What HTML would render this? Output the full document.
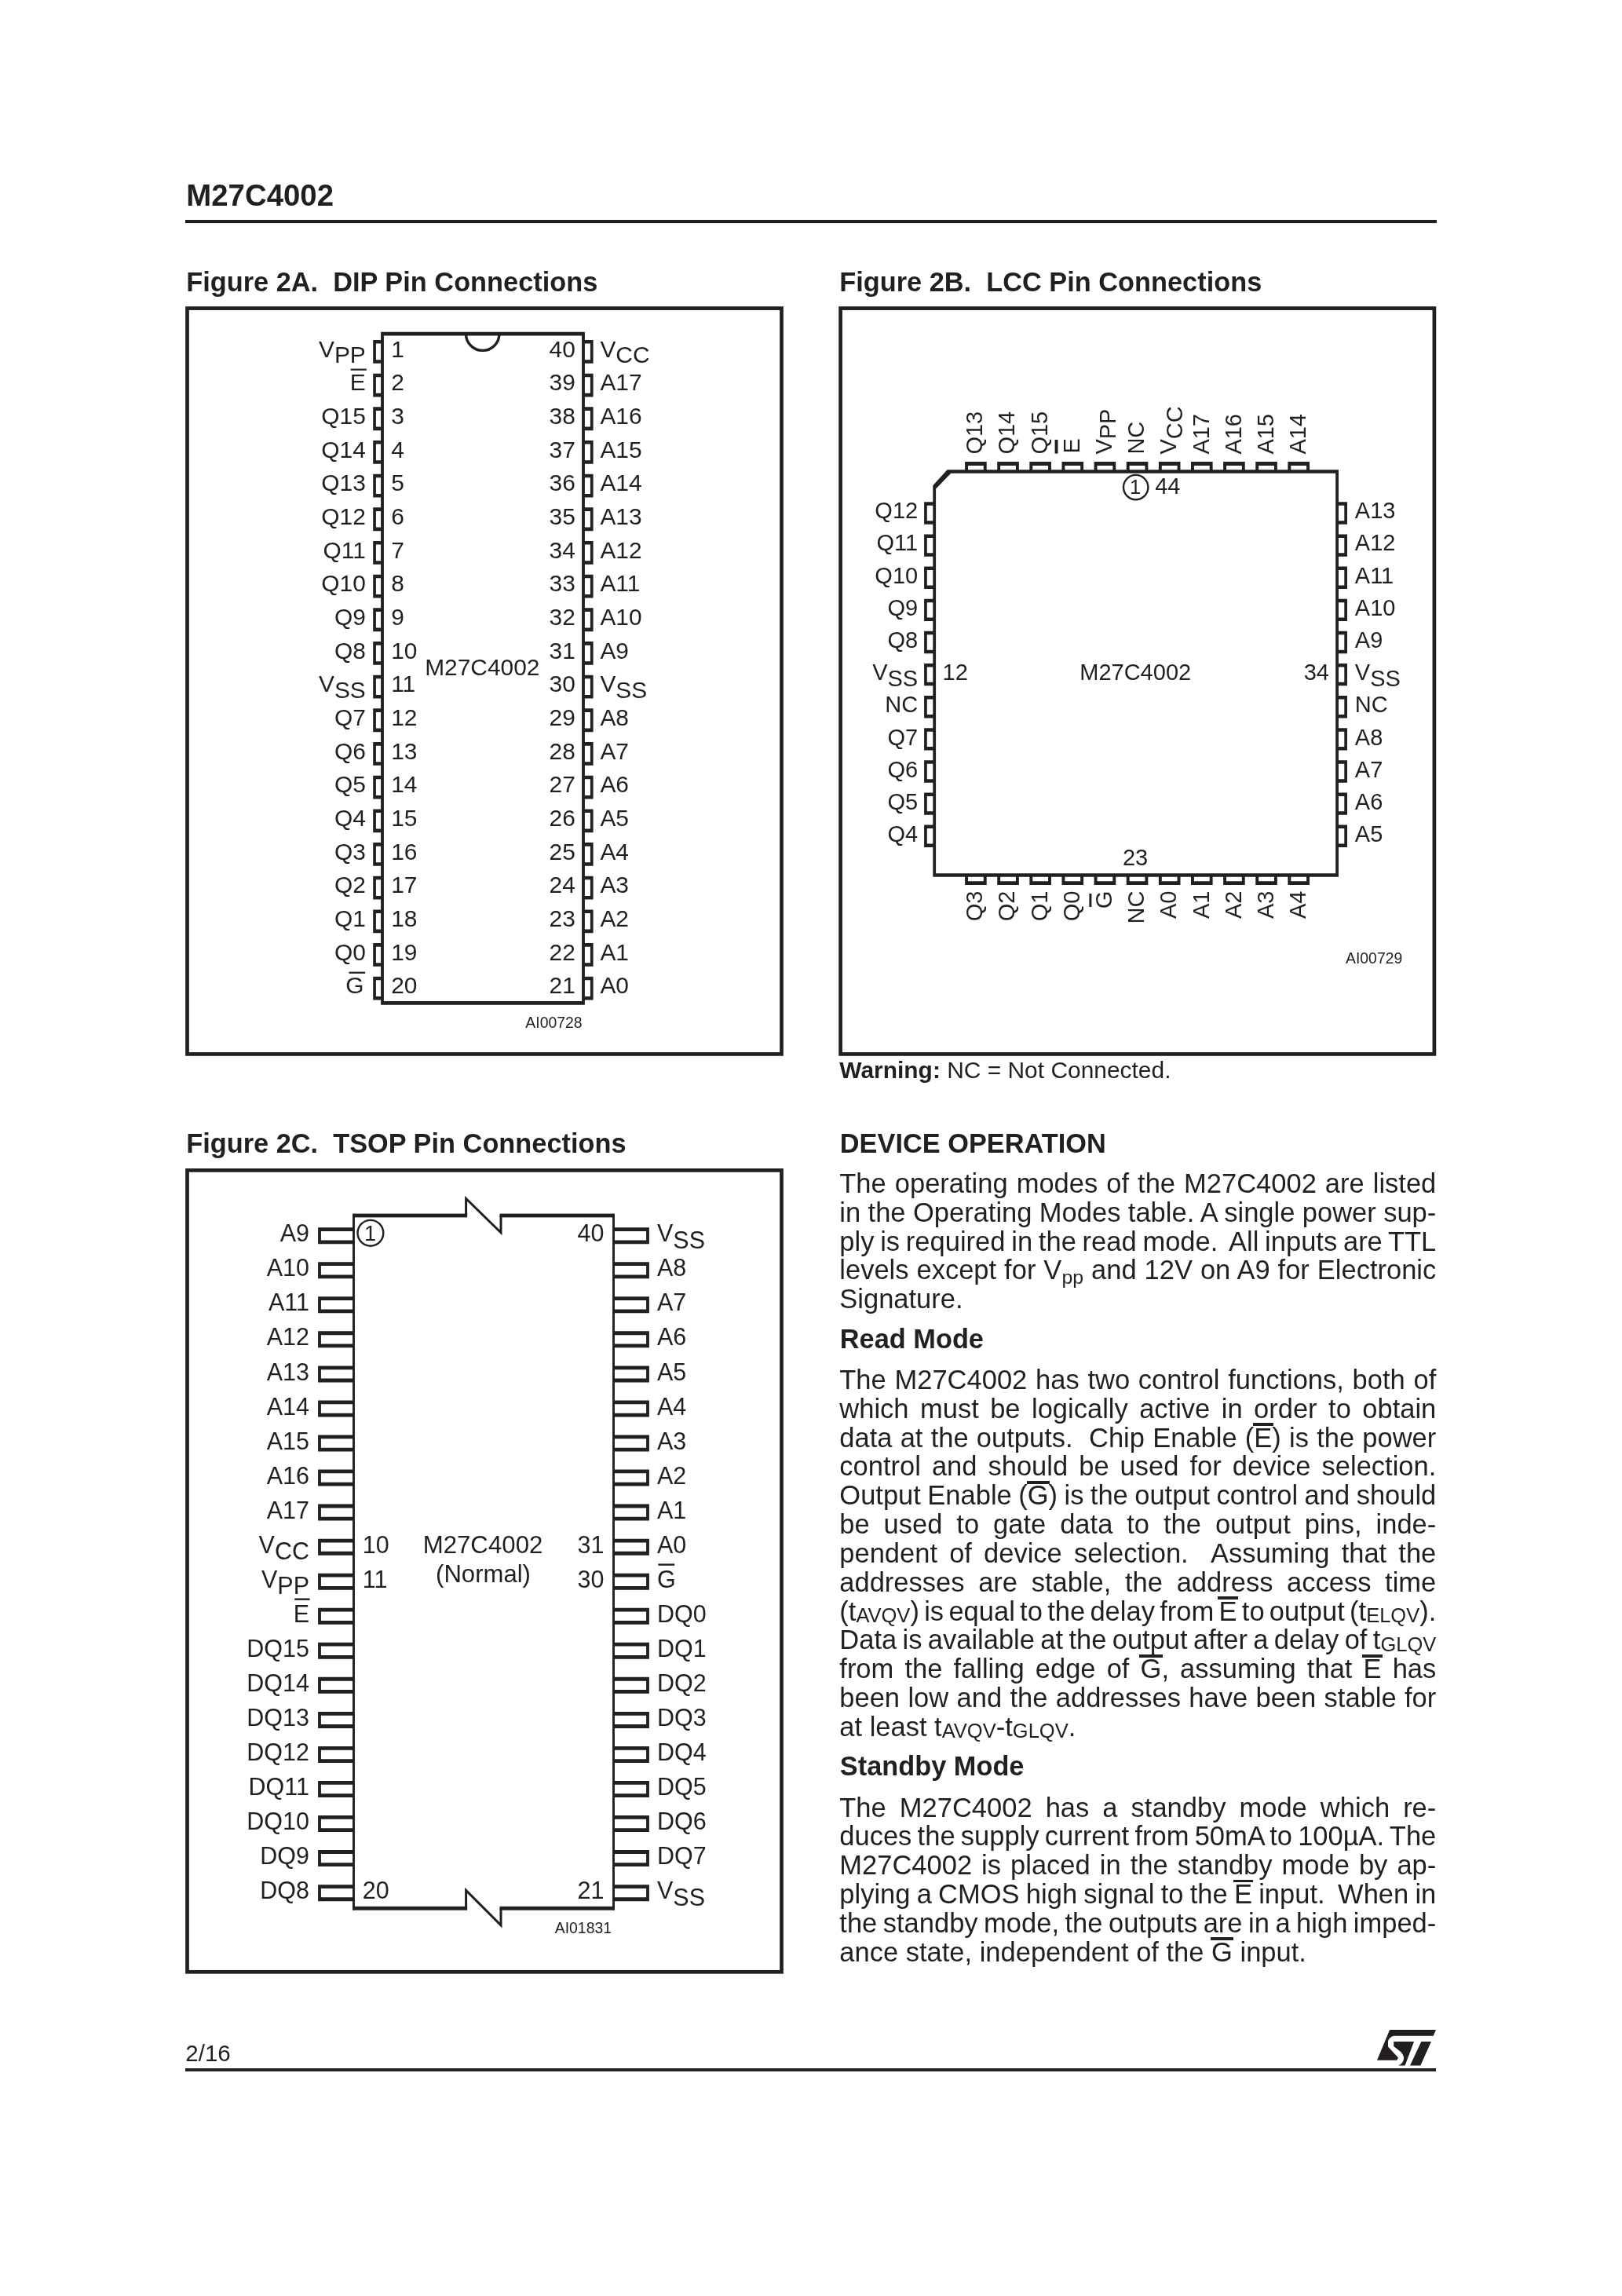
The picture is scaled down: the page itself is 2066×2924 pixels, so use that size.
<!DOCTYPE html>
<html lang="en"><head><meta charset="utf-8"><title>M27C4002</title>
<style>
html,body{margin:0;padding:0;background:#fff;}
body{width:2066px;height:2924px;position:relative;overflow:hidden;font-family:"Liberation Sans",sans-serif;color:#231f20;will-change:transform;}
svg{position:absolute;left:0;top:0;}
svg text{font-family:"Liberation Sans",sans-serif;fill:#231f20;}
.ln{position:absolute;left:1069.3px;height:40px;line-height:40px;font-size:34.5px;white-space:nowrap;}
.ob{position:relative;display:inline-block;line-height:1;}
.ob::before{content:"";position:absolute;left:-1.2px;right:-1.3px;top:-1.2px;height:3.7px;background:#231f20;}
.sc{font-size:0.74em;position:relative;top:0.1em;}
.sb{font-size:0.72em;position:relative;top:0.22em;}
</style></head><body>
<svg width="2066" height="2924" viewBox="0 0 2066 2924">
<text transform="translate(237.30,262.30) scale(1.0020,1.0000)" font-size="38.3" font-weight="bold">M27C4002</text>
<rect x="236.00" y="280.00" width="1594.00" height="4.10" fill="#231f20"/>
<rect x="236.00" y="2634.00" width="1593.00" height="4.00" fill="#231f20"/>
<text transform="translate(236.30,2625.20) scale(0.9700,1.0000)" font-size="30.4">2/16</text>
<g fill="#231f20"><path d="M1770.1 2585.1 L1829 2585.1 L1825.7 2592.8 L1775.2 2592.8 Q1769.5 2594.5 1768 2599.4 L1768 2606.6 L1780.9 2620.4 L1779.3 2623.7 L1754 2623.7 Z"/><path d="M1775.2 2600.1 L1801.1 2600.1 L1789.6 2630.6 L1781.2 2630.6 Q1787 2627.5 1787.8 2623 L1788.2 2620.4 Q1787.5 2616 1784.4 2613.2 L1775.2 2606.1 Z"/><path d="M1810.3 2600.1 L1823 2600.1 L1809.3 2630.6 L1796 2630.6 Z"/></g>
<text transform="translate(237.20,371.10) scale(0.9760,1.0000)" font-size="35.2" font-weight="bold" xml:space="preserve" style="white-space:pre">Figure 2A.  DIP Pin Connections</text>
<text transform="translate(1069.20,371.10) scale(0.9760,1.0000)" font-size="35.2" font-weight="bold" xml:space="preserve" style="white-space:pre">Figure 2B.  LCC Pin Connections</text>
<text transform="translate(237.20,1467.80) scale(0.9760,1.0000)" font-size="35.2" font-weight="bold" xml:space="preserve" style="white-space:pre">Figure 2C.  TSOP Pin Connections</text>
<text transform="translate(1069.80,1467.60) scale(0.9760,1.0000)" font-size="35.2" font-weight="bold">DEVICE OPERATION</text>
<text transform="translate(1069.80,1716.90) scale(0.9760,1.0000)" font-size="35.2" font-weight="bold">Read Mode</text>
<text transform="translate(1069.80,2261.00) scale(0.9760,1.0000)" font-size="35.2" font-weight="bold">Standby Mode</text>
<rect x="238.50" y="392.60" width="757.00" height="949.80" fill="none" stroke="#231f20" stroke-width="4.7"/>
<rect x="1070.60" y="392.60" width="756.30" height="949.80" fill="none" stroke="#231f20" stroke-width="4.7"/>
<rect x="238.50" y="1490.40" width="757.00" height="1020.90" fill="none" stroke="#231f20" stroke-width="4.7"/>
<path fill-rule="evenodd" fill="#231f20" d="M485.10 422.80H744.90V1279.70H485.10Z M488.90 427.60H741.10V1274.90H488.90Z"/>
<path d="M593.50 425.2 A21.2 21.2 0 0 0 635.90 425.2" fill="none" stroke="#231f20" stroke-width="3.4"/>
<path fill-rule="evenodd" fill="#231f20" d="M475.20 433.00H487.00V462.80H475.20Z M478.90 437.60H487.00V458.20H478.90Z"/>
<path fill-rule="evenodd" fill="#231f20" d="M743.00 433.00H755.60V462.80H743.00Z M743.00 437.60H751.90V458.20H743.00Z"/>
<text transform="translate(498.20,454.50) scale(1.0320,1.0000)" font-size="29.0">1</text>
<text transform="translate(732.90,454.50) scale(1.0320,1.0000)" font-size="29.0" text-anchor="end">40</text>
<text transform="translate(465.80,454.50) scale(1.0320,1.0000)" font-size="29.0" text-anchor="end">V<tspan dy="7.8">PP</tspan></text>
<text transform="translate(764.40,454.50) scale(1.0320,1.0000)" font-size="29.0">V<tspan dy="7.8">CC</tspan></text>
<path fill-rule="evenodd" fill="#231f20" d="M475.20 475.67H487.00V505.47H475.20Z M478.90 480.27H487.00V500.87H478.90Z"/>
<path fill-rule="evenodd" fill="#231f20" d="M743.00 475.67H755.60V505.47H743.00Z M743.00 480.27H751.90V500.87H743.00Z"/>
<text transform="translate(498.20,497.17) scale(1.0320,1.0000)" font-size="29.0">2</text>
<text transform="translate(732.90,497.17) scale(1.0320,1.0000)" font-size="29.0" text-anchor="end">39</text>
<text transform="translate(465.80,497.17) scale(1.0320,1.0000)" font-size="29.0" text-anchor="end">E</text>
<rect x="446.70" y="469.57" width="20.10" height="2.20" fill="#231f20"/>
<text transform="translate(764.40,497.17) scale(1.0320,1.0000)" font-size="29.0">A17</text>
<path fill-rule="evenodd" fill="#231f20" d="M475.20 518.34H487.00V548.14H475.20Z M478.90 522.94H487.00V543.54H478.90Z"/>
<path fill-rule="evenodd" fill="#231f20" d="M743.00 518.34H755.60V548.14H743.00Z M743.00 522.94H751.90V543.54H743.00Z"/>
<text transform="translate(498.20,539.84) scale(1.0320,1.0000)" font-size="29.0">3</text>
<text transform="translate(732.90,539.84) scale(1.0320,1.0000)" font-size="29.0" text-anchor="end">38</text>
<text transform="translate(465.80,539.84) scale(1.0320,1.0000)" font-size="29.0" text-anchor="end">Q15</text>
<text transform="translate(764.40,539.84) scale(1.0320,1.0000)" font-size="29.0">A16</text>
<path fill-rule="evenodd" fill="#231f20" d="M475.20 561.01H487.00V590.81H475.20Z M478.90 565.61H487.00V586.21H478.90Z"/>
<path fill-rule="evenodd" fill="#231f20" d="M743.00 561.01H755.60V590.81H743.00Z M743.00 565.61H751.90V586.21H743.00Z"/>
<text transform="translate(498.20,582.51) scale(1.0320,1.0000)" font-size="29.0">4</text>
<text transform="translate(732.90,582.51) scale(1.0320,1.0000)" font-size="29.0" text-anchor="end">37</text>
<text transform="translate(465.80,582.51) scale(1.0320,1.0000)" font-size="29.0" text-anchor="end">Q14</text>
<text transform="translate(764.40,582.51) scale(1.0320,1.0000)" font-size="29.0">A15</text>
<path fill-rule="evenodd" fill="#231f20" d="M475.20 603.68H487.00V633.48H475.20Z M478.90 608.28H487.00V628.88H478.90Z"/>
<path fill-rule="evenodd" fill="#231f20" d="M743.00 603.68H755.60V633.48H743.00Z M743.00 608.28H751.90V628.88H743.00Z"/>
<text transform="translate(498.20,625.18) scale(1.0320,1.0000)" font-size="29.0">5</text>
<text transform="translate(732.90,625.18) scale(1.0320,1.0000)" font-size="29.0" text-anchor="end">36</text>
<text transform="translate(465.80,625.18) scale(1.0320,1.0000)" font-size="29.0" text-anchor="end">Q13</text>
<text transform="translate(764.40,625.18) scale(1.0320,1.0000)" font-size="29.0">A14</text>
<path fill-rule="evenodd" fill="#231f20" d="M475.20 646.35H487.00V676.15H475.20Z M478.90 650.95H487.00V671.55H478.90Z"/>
<path fill-rule="evenodd" fill="#231f20" d="M743.00 646.35H755.60V676.15H743.00Z M743.00 650.95H751.90V671.55H743.00Z"/>
<text transform="translate(498.20,667.85) scale(1.0320,1.0000)" font-size="29.0">6</text>
<text transform="translate(732.90,667.85) scale(1.0320,1.0000)" font-size="29.0" text-anchor="end">35</text>
<text transform="translate(465.80,667.85) scale(1.0320,1.0000)" font-size="29.0" text-anchor="end">Q12</text>
<text transform="translate(764.40,667.85) scale(1.0320,1.0000)" font-size="29.0">A13</text>
<path fill-rule="evenodd" fill="#231f20" d="M475.20 689.02H487.00V718.82H475.20Z M478.90 693.62H487.00V714.22H478.90Z"/>
<path fill-rule="evenodd" fill="#231f20" d="M743.00 689.02H755.60V718.82H743.00Z M743.00 693.62H751.90V714.22H743.00Z"/>
<text transform="translate(498.20,710.52) scale(1.0320,1.0000)" font-size="29.0">7</text>
<text transform="translate(732.90,710.52) scale(1.0320,1.0000)" font-size="29.0" text-anchor="end">34</text>
<text transform="translate(465.80,710.52) scale(1.0320,1.0000)" font-size="29.0" text-anchor="end">Q11</text>
<text transform="translate(764.40,710.52) scale(1.0320,1.0000)" font-size="29.0">A12</text>
<path fill-rule="evenodd" fill="#231f20" d="M475.20 731.69H487.00V761.49H475.20Z M478.90 736.29H487.00V756.89H478.90Z"/>
<path fill-rule="evenodd" fill="#231f20" d="M743.00 731.69H755.60V761.49H743.00Z M743.00 736.29H751.90V756.89H743.00Z"/>
<text transform="translate(498.20,753.19) scale(1.0320,1.0000)" font-size="29.0">8</text>
<text transform="translate(732.90,753.19) scale(1.0320,1.0000)" font-size="29.0" text-anchor="end">33</text>
<text transform="translate(465.80,753.19) scale(1.0320,1.0000)" font-size="29.0" text-anchor="end">Q10</text>
<text transform="translate(764.40,753.19) scale(1.0320,1.0000)" font-size="29.0">A11</text>
<path fill-rule="evenodd" fill="#231f20" d="M475.20 774.36H487.00V804.16H475.20Z M478.90 778.96H487.00V799.56H478.90Z"/>
<path fill-rule="evenodd" fill="#231f20" d="M743.00 774.36H755.60V804.16H743.00Z M743.00 778.96H751.90V799.56H743.00Z"/>
<text transform="translate(498.20,795.86) scale(1.0320,1.0000)" font-size="29.0">9</text>
<text transform="translate(732.90,795.86) scale(1.0320,1.0000)" font-size="29.0" text-anchor="end">32</text>
<text transform="translate(465.80,795.86) scale(1.0320,1.0000)" font-size="29.0" text-anchor="end">Q9</text>
<text transform="translate(764.40,795.86) scale(1.0320,1.0000)" font-size="29.0">A10</text>
<path fill-rule="evenodd" fill="#231f20" d="M475.20 817.03H487.00V846.83H475.20Z M478.90 821.63H487.00V842.23H478.90Z"/>
<path fill-rule="evenodd" fill="#231f20" d="M743.00 817.03H755.60V846.83H743.00Z M743.00 821.63H751.90V842.23H743.00Z"/>
<text transform="translate(498.20,838.53) scale(1.0320,1.0000)" font-size="29.0">10</text>
<text transform="translate(732.90,838.53) scale(1.0320,1.0000)" font-size="29.0" text-anchor="end">31</text>
<text transform="translate(465.80,838.53) scale(1.0320,1.0000)" font-size="29.0" text-anchor="end">Q8</text>
<text transform="translate(764.40,838.53) scale(1.0320,1.0000)" font-size="29.0">A9</text>
<path fill-rule="evenodd" fill="#231f20" d="M475.20 859.70H487.00V889.50H475.20Z M478.90 864.30H487.00V884.90H478.90Z"/>
<path fill-rule="evenodd" fill="#231f20" d="M743.00 859.70H755.60V889.50H743.00Z M743.00 864.30H751.90V884.90H743.00Z"/>
<text transform="translate(498.20,881.20) scale(1.0320,1.0000)" font-size="29.0">11</text>
<text transform="translate(732.90,881.20) scale(1.0320,1.0000)" font-size="29.0" text-anchor="end">30</text>
<text transform="translate(465.80,881.20) scale(1.0320,1.0000)" font-size="29.0" text-anchor="end">V<tspan dy="7.8">SS</tspan></text>
<text transform="translate(764.40,881.20) scale(1.0320,1.0000)" font-size="29.0">V<tspan dy="7.8">SS</tspan></text>
<path fill-rule="evenodd" fill="#231f20" d="M475.20 902.37H487.00V932.17H475.20Z M478.90 906.97H487.00V927.57H478.90Z"/>
<path fill-rule="evenodd" fill="#231f20" d="M743.00 902.37H755.60V932.17H743.00Z M743.00 906.97H751.90V927.57H743.00Z"/>
<text transform="translate(498.20,923.87) scale(1.0320,1.0000)" font-size="29.0">12</text>
<text transform="translate(732.90,923.87) scale(1.0320,1.0000)" font-size="29.0" text-anchor="end">29</text>
<text transform="translate(465.80,923.87) scale(1.0320,1.0000)" font-size="29.0" text-anchor="end">Q7</text>
<text transform="translate(764.40,923.87) scale(1.0320,1.0000)" font-size="29.0">A8</text>
<path fill-rule="evenodd" fill="#231f20" d="M475.20 945.04H487.00V974.84H475.20Z M478.90 949.64H487.00V970.24H478.90Z"/>
<path fill-rule="evenodd" fill="#231f20" d="M743.00 945.04H755.60V974.84H743.00Z M743.00 949.64H751.90V970.24H743.00Z"/>
<text transform="translate(498.20,966.54) scale(1.0320,1.0000)" font-size="29.0">13</text>
<text transform="translate(732.90,966.54) scale(1.0320,1.0000)" font-size="29.0" text-anchor="end">28</text>
<text transform="translate(465.80,966.54) scale(1.0320,1.0000)" font-size="29.0" text-anchor="end">Q6</text>
<text transform="translate(764.40,966.54) scale(1.0320,1.0000)" font-size="29.0">A7</text>
<path fill-rule="evenodd" fill="#231f20" d="M475.20 987.71H487.00V1017.51H475.20Z M478.90 992.31H487.00V1012.91H478.90Z"/>
<path fill-rule="evenodd" fill="#231f20" d="M743.00 987.71H755.60V1017.51H743.00Z M743.00 992.31H751.90V1012.91H743.00Z"/>
<text transform="translate(498.20,1009.21) scale(1.0320,1.0000)" font-size="29.0">14</text>
<text transform="translate(732.90,1009.21) scale(1.0320,1.0000)" font-size="29.0" text-anchor="end">27</text>
<text transform="translate(465.80,1009.21) scale(1.0320,1.0000)" font-size="29.0" text-anchor="end">Q5</text>
<text transform="translate(764.40,1009.21) scale(1.0320,1.0000)" font-size="29.0">A6</text>
<path fill-rule="evenodd" fill="#231f20" d="M475.20 1030.38H487.00V1060.18H475.20Z M478.90 1034.98H487.00V1055.58H478.90Z"/>
<path fill-rule="evenodd" fill="#231f20" d="M743.00 1030.38H755.60V1060.18H743.00Z M743.00 1034.98H751.90V1055.58H743.00Z"/>
<text transform="translate(498.20,1051.88) scale(1.0320,1.0000)" font-size="29.0">15</text>
<text transform="translate(732.90,1051.88) scale(1.0320,1.0000)" font-size="29.0" text-anchor="end">26</text>
<text transform="translate(465.80,1051.88) scale(1.0320,1.0000)" font-size="29.0" text-anchor="end">Q4</text>
<text transform="translate(764.40,1051.88) scale(1.0320,1.0000)" font-size="29.0">A5</text>
<path fill-rule="evenodd" fill="#231f20" d="M475.20 1073.05H487.00V1102.85H475.20Z M478.90 1077.65H487.00V1098.25H478.90Z"/>
<path fill-rule="evenodd" fill="#231f20" d="M743.00 1073.05H755.60V1102.85H743.00Z M743.00 1077.65H751.90V1098.25H743.00Z"/>
<text transform="translate(498.20,1094.55) scale(1.0320,1.0000)" font-size="29.0">16</text>
<text transform="translate(732.90,1094.55) scale(1.0320,1.0000)" font-size="29.0" text-anchor="end">25</text>
<text transform="translate(465.80,1094.55) scale(1.0320,1.0000)" font-size="29.0" text-anchor="end">Q3</text>
<text transform="translate(764.40,1094.55) scale(1.0320,1.0000)" font-size="29.0">A4</text>
<path fill-rule="evenodd" fill="#231f20" d="M475.20 1115.72H487.00V1145.52H475.20Z M478.90 1120.32H487.00V1140.92H478.90Z"/>
<path fill-rule="evenodd" fill="#231f20" d="M743.00 1115.72H755.60V1145.52H743.00Z M743.00 1120.32H751.90V1140.92H743.00Z"/>
<text transform="translate(498.20,1137.22) scale(1.0320,1.0000)" font-size="29.0">17</text>
<text transform="translate(732.90,1137.22) scale(1.0320,1.0000)" font-size="29.0" text-anchor="end">24</text>
<text transform="translate(465.80,1137.22) scale(1.0320,1.0000)" font-size="29.0" text-anchor="end">Q2</text>
<text transform="translate(764.40,1137.22) scale(1.0320,1.0000)" font-size="29.0">A3</text>
<path fill-rule="evenodd" fill="#231f20" d="M475.20 1158.39H487.00V1188.19H475.20Z M478.90 1162.99H487.00V1183.59H478.90Z"/>
<path fill-rule="evenodd" fill="#231f20" d="M743.00 1158.39H755.60V1188.19H743.00Z M743.00 1162.99H751.90V1183.59H743.00Z"/>
<text transform="translate(498.20,1179.89) scale(1.0320,1.0000)" font-size="29.0">18</text>
<text transform="translate(732.90,1179.89) scale(1.0320,1.0000)" font-size="29.0" text-anchor="end">23</text>
<text transform="translate(465.80,1179.89) scale(1.0320,1.0000)" font-size="29.0" text-anchor="end">Q1</text>
<text transform="translate(764.40,1179.89) scale(1.0320,1.0000)" font-size="29.0">A2</text>
<path fill-rule="evenodd" fill="#231f20" d="M475.20 1201.06H487.00V1230.86H475.20Z M478.90 1205.66H487.00V1226.26H478.90Z"/>
<path fill-rule="evenodd" fill="#231f20" d="M743.00 1201.06H755.60V1230.86H743.00Z M743.00 1205.66H751.90V1226.26H743.00Z"/>
<text transform="translate(498.20,1222.56) scale(1.0320,1.0000)" font-size="29.0">19</text>
<text transform="translate(732.90,1222.56) scale(1.0320,1.0000)" font-size="29.0" text-anchor="end">22</text>
<text transform="translate(465.80,1222.56) scale(1.0320,1.0000)" font-size="29.0" text-anchor="end">Q0</text>
<text transform="translate(764.40,1222.56) scale(1.0320,1.0000)" font-size="29.0">A1</text>
<path fill-rule="evenodd" fill="#231f20" d="M475.20 1243.73H487.00V1273.53H475.20Z M478.90 1248.33H487.00V1268.93H478.90Z"/>
<path fill-rule="evenodd" fill="#231f20" d="M743.00 1243.73H755.60V1273.53H743.00Z M743.00 1248.33H751.90V1268.93H743.00Z"/>
<text transform="translate(498.20,1265.23) scale(1.0320,1.0000)" font-size="29.0">20</text>
<text transform="translate(732.90,1265.23) scale(1.0320,1.0000)" font-size="29.0" text-anchor="end">21</text>
<text transform="translate(463.60,1265.23) scale(1.0320,1.0000)" font-size="29.0" text-anchor="end">G</text>
<rect x="444.50" y="1237.63" width="20.60" height="2.20" fill="#231f20"/>
<text transform="translate(764.40,1265.23) scale(1.0320,1.0000)" font-size="29.0">A0</text>
<text transform="translate(614.30,859.60) scale(1.0320,1.0000)" font-size="29.0" text-anchor="middle">M27C4002</text>
<text transform="translate(741.60,1308.50) scale(1.0000,1.0000)" font-size="19.4" text-anchor="end">AI00728</text>
<path fill-rule="evenodd" fill="#231f20" d="M1188.30 618.20 L1206.50 598.15 H1705.00 V1116.85 H1188.30 Z M1192.10 622.40 L1211.20 602.85 H1701.20 V1112.15 H1192.10 Z"/>
<path fill-rule="evenodd" fill="#231f20" d="M1229.10 588.10H1256.70V600.50H1229.10Z M1233.00 592.90H1252.80V600.50H1233.00Z"/>
<path fill-rule="evenodd" fill="#231f20" d="M1229.10 1114.50H1256.70V1127.00H1229.10Z M1233.00 1114.50H1252.80V1122.20H1233.00Z"/>
<text transform="translate(1251.20,578.60) rotate(-90) scale(1.0000,1.0300)" font-size="29.0">Q13</text>
<text transform="translate(1251.20,1134.60) rotate(-90) scale(1.0000,1.0300)" font-size="29.0" text-anchor="end">Q3</text>
<path fill-rule="evenodd" fill="#231f20" d="M1177.10 639.30H1190.20V667.70H1177.10Z M1180.80 643.80H1190.20V663.20H1180.80Z"/>
<path fill-rule="evenodd" fill="#231f20" d="M1703.10 639.30H1716.00V667.70H1703.10Z M1703.10 643.80H1712.30V663.20H1703.10Z"/>
<text transform="translate(1169.20,660.30) scale(1.0000,1.0000)" font-size="29.0" text-anchor="end">Q12</text>
<text transform="translate(1725.80,660.30) scale(1.0000,1.0000)" font-size="29.0">A13</text>
<path fill-rule="evenodd" fill="#231f20" d="M1270.23 588.10H1297.83V600.50H1270.23Z M1274.13 592.90H1293.93V600.50H1274.13Z"/>
<path fill-rule="evenodd" fill="#231f20" d="M1270.23 1114.50H1297.83V1127.00H1270.23Z M1274.13 1114.50H1293.93V1122.20H1274.13Z"/>
<text transform="translate(1292.40,578.60) rotate(-90) scale(1.0000,1.0300)" font-size="29.0">Q14</text>
<text transform="translate(1292.40,1134.60) rotate(-90) scale(1.0000,1.0300)" font-size="29.0" text-anchor="end">Q2</text>
<path fill-rule="evenodd" fill="#231f20" d="M1177.10 680.43H1190.20V708.83H1177.10Z M1180.80 684.93H1190.20V704.33H1180.80Z"/>
<path fill-rule="evenodd" fill="#231f20" d="M1703.10 680.43H1716.00V708.83H1703.10Z M1703.10 684.93H1712.30V704.33H1703.10Z"/>
<text transform="translate(1169.20,701.48) scale(1.0000,1.0000)" font-size="29.0" text-anchor="end">Q11</text>
<text transform="translate(1725.80,701.48) scale(1.0000,1.0000)" font-size="29.0">A12</text>
<path fill-rule="evenodd" fill="#231f20" d="M1311.36 588.10H1338.96V600.50H1311.36Z M1315.26 592.90H1335.06V600.50H1315.26Z"/>
<path fill-rule="evenodd" fill="#231f20" d="M1311.36 1114.50H1338.96V1127.00H1311.36Z M1315.26 1114.50H1335.06V1122.20H1315.26Z"/>
<text transform="translate(1333.60,578.60) rotate(-90) scale(1.0000,1.0300)" font-size="29.0">Q15</text>
<text transform="translate(1333.60,1134.60) rotate(-90) scale(1.0000,1.0300)" font-size="29.0" text-anchor="end">Q1</text>
<path fill-rule="evenodd" fill="#231f20" d="M1177.10 721.56H1190.20V749.96H1177.10Z M1180.80 726.06H1190.20V745.46H1180.80Z"/>
<path fill-rule="evenodd" fill="#231f20" d="M1703.10 721.56H1716.00V749.96H1703.10Z M1703.10 726.06H1712.30V745.46H1703.10Z"/>
<text transform="translate(1169.20,742.66) scale(1.0000,1.0000)" font-size="29.0" text-anchor="end">Q10</text>
<text transform="translate(1725.80,742.66) scale(1.0000,1.0000)" font-size="29.0">A11</text>
<path fill-rule="evenodd" fill="#231f20" d="M1352.49 588.10H1380.09V600.50H1352.49Z M1356.39 592.90H1376.19V600.50H1356.39Z"/>
<path fill-rule="evenodd" fill="#231f20" d="M1352.49 1114.50H1380.09V1127.00H1352.49Z M1356.39 1114.50H1376.19V1122.20H1356.39Z"/>
<text transform="translate(1374.80,577.40) rotate(-90) scale(1.0000,1.0300)" font-size="29.0">E</text>
<rect x="1343.60" y="560.00" width="3.90" height="17.60" fill="#231f20"/>
<text transform="translate(1374.80,1134.60) rotate(-90) scale(1.0000,1.0300)" font-size="29.0" text-anchor="end">Q0</text>
<path fill-rule="evenodd" fill="#231f20" d="M1177.10 762.69H1190.20V791.09H1177.10Z M1180.80 767.19H1190.20V786.59H1180.80Z"/>
<path fill-rule="evenodd" fill="#231f20" d="M1703.10 762.69H1716.00V791.09H1703.10Z M1703.10 767.19H1712.30V786.59H1703.10Z"/>
<text transform="translate(1169.20,783.84) scale(1.0000,1.0000)" font-size="29.0" text-anchor="end">Q9</text>
<text transform="translate(1725.80,783.84) scale(1.0000,1.0000)" font-size="29.0">A10</text>
<path fill-rule="evenodd" fill="#231f20" d="M1393.62 588.10H1421.22V600.50H1393.62Z M1397.52 592.90H1417.32V600.50H1397.52Z"/>
<path fill-rule="evenodd" fill="#231f20" d="M1393.62 1114.50H1421.22V1127.00H1393.62Z M1397.52 1114.50H1417.32V1122.20H1397.52Z"/>
<text transform="translate(1416.00,578.60) rotate(-90) scale(1.0000,1.0300)" font-size="29.0">V<tspan dy="5.0">PP</tspan></text>
<text transform="translate(1416.00,1134.60) rotate(-90) scale(1.0000,1.0300)" font-size="29.0" text-anchor="end">G</text>
<rect x="1387.40" y="1138.00" width="3.00" height="17.00" fill="#231f20"/>
<path fill-rule="evenodd" fill="#231f20" d="M1177.10 803.82H1190.20V832.22H1177.10Z M1180.80 808.32H1190.20V827.72H1180.80Z"/>
<path fill-rule="evenodd" fill="#231f20" d="M1703.10 803.82H1716.00V832.22H1703.10Z M1703.10 808.32H1712.30V827.72H1703.10Z"/>
<text transform="translate(1169.20,825.02) scale(1.0000,1.0000)" font-size="29.0" text-anchor="end">Q8</text>
<text transform="translate(1725.80,825.02) scale(1.0000,1.0000)" font-size="29.0">A9</text>
<path fill-rule="evenodd" fill="#231f20" d="M1434.75 588.10H1462.35V600.50H1434.75Z M1438.65 592.90H1458.45V600.50H1438.65Z"/>
<path fill-rule="evenodd" fill="#231f20" d="M1434.75 1114.50H1462.35V1127.00H1434.75Z M1438.65 1114.50H1458.45V1122.20H1438.65Z"/>
<text transform="translate(1457.20,578.60) rotate(-90) scale(1.0000,1.0300)" font-size="29.0">NC</text>
<text transform="translate(1457.20,1134.60) rotate(-90) scale(1.0000,1.0300)" font-size="29.0" text-anchor="end">NC</text>
<path fill-rule="evenodd" fill="#231f20" d="M1177.10 844.95H1190.20V873.35H1177.10Z M1180.80 849.45H1190.20V868.85H1180.80Z"/>
<path fill-rule="evenodd" fill="#231f20" d="M1703.10 844.95H1716.00V873.35H1703.10Z M1703.10 849.45H1712.30V868.85H1703.10Z"/>
<text transform="translate(1169.20,866.20) scale(1.0000,1.0000)" font-size="29.0" text-anchor="end">V<tspan dy="7.8">SS</tspan></text>
<text transform="translate(1725.80,866.20) scale(1.0000,1.0000)" font-size="29.0">V<tspan dy="7.8">SS</tspan></text>
<path fill-rule="evenodd" fill="#231f20" d="M1475.88 588.10H1503.48V600.50H1475.88Z M1479.78 592.90H1499.58V600.50H1479.78Z"/>
<path fill-rule="evenodd" fill="#231f20" d="M1475.88 1114.50H1503.48V1127.00H1475.88Z M1479.78 1114.50H1499.58V1122.20H1479.78Z"/>
<text transform="translate(1498.40,578.60) rotate(-90) scale(1.0000,1.0300)" font-size="29.0">V<tspan dy="7.6">CC</tspan></text>
<text transform="translate(1498.40,1134.60) rotate(-90) scale(1.0000,1.0300)" font-size="29.0" text-anchor="end">A0</text>
<path fill-rule="evenodd" fill="#231f20" d="M1177.10 886.08H1190.20V914.48H1177.10Z M1180.80 890.58H1190.20V909.98H1180.80Z"/>
<path fill-rule="evenodd" fill="#231f20" d="M1703.10 886.08H1716.00V914.48H1703.10Z M1703.10 890.58H1712.30V909.98H1703.10Z"/>
<text transform="translate(1169.20,907.38) scale(1.0000,1.0000)" font-size="29.0" text-anchor="end">NC</text>
<text transform="translate(1725.80,907.38) scale(1.0000,1.0000)" font-size="29.0">NC</text>
<path fill-rule="evenodd" fill="#231f20" d="M1517.01 588.10H1544.61V600.50H1517.01Z M1520.91 592.90H1540.71V600.50H1520.91Z"/>
<path fill-rule="evenodd" fill="#231f20" d="M1517.01 1114.50H1544.61V1127.00H1517.01Z M1520.91 1114.50H1540.71V1122.20H1520.91Z"/>
<text transform="translate(1539.60,578.60) rotate(-90) scale(1.0000,1.0300)" font-size="29.0">A17</text>
<text transform="translate(1539.60,1134.60) rotate(-90) scale(1.0000,1.0300)" font-size="29.0" text-anchor="end">A1</text>
<path fill-rule="evenodd" fill="#231f20" d="M1177.10 927.21H1190.20V955.61H1177.10Z M1180.80 931.71H1190.20V951.11H1180.80Z"/>
<path fill-rule="evenodd" fill="#231f20" d="M1703.10 927.21H1716.00V955.61H1703.10Z M1703.10 931.71H1712.30V951.11H1703.10Z"/>
<text transform="translate(1169.20,948.56) scale(1.0000,1.0000)" font-size="29.0" text-anchor="end">Q7</text>
<text transform="translate(1725.80,948.56) scale(1.0000,1.0000)" font-size="29.0">A8</text>
<path fill-rule="evenodd" fill="#231f20" d="M1558.14 588.10H1585.74V600.50H1558.14Z M1562.04 592.90H1581.84V600.50H1562.04Z"/>
<path fill-rule="evenodd" fill="#231f20" d="M1558.14 1114.50H1585.74V1127.00H1558.14Z M1562.04 1114.50H1581.84V1122.20H1562.04Z"/>
<text transform="translate(1580.80,578.60) rotate(-90) scale(1.0000,1.0300)" font-size="29.0">A16</text>
<text transform="translate(1580.80,1134.60) rotate(-90) scale(1.0000,1.0300)" font-size="29.0" text-anchor="end">A2</text>
<path fill-rule="evenodd" fill="#231f20" d="M1177.10 968.34H1190.20V996.74H1177.10Z M1180.80 972.84H1190.20V992.24H1180.80Z"/>
<path fill-rule="evenodd" fill="#231f20" d="M1703.10 968.34H1716.00V996.74H1703.10Z M1703.10 972.84H1712.30V992.24H1703.10Z"/>
<text transform="translate(1169.20,989.74) scale(1.0000,1.0000)" font-size="29.0" text-anchor="end">Q6</text>
<text transform="translate(1725.80,989.74) scale(1.0000,1.0000)" font-size="29.0">A7</text>
<path fill-rule="evenodd" fill="#231f20" d="M1599.27 588.10H1626.87V600.50H1599.27Z M1603.17 592.90H1622.97V600.50H1603.17Z"/>
<path fill-rule="evenodd" fill="#231f20" d="M1599.27 1114.50H1626.87V1127.00H1599.27Z M1603.17 1114.50H1622.97V1122.20H1603.17Z"/>
<text transform="translate(1622.00,578.60) rotate(-90) scale(1.0000,1.0300)" font-size="29.0">A15</text>
<text transform="translate(1622.00,1134.60) rotate(-90) scale(1.0000,1.0300)" font-size="29.0" text-anchor="end">A3</text>
<path fill-rule="evenodd" fill="#231f20" d="M1177.10 1009.47H1190.20V1037.87H1177.10Z M1180.80 1013.97H1190.20V1033.37H1180.80Z"/>
<path fill-rule="evenodd" fill="#231f20" d="M1703.10 1009.47H1716.00V1037.87H1703.10Z M1703.10 1013.97H1712.30V1033.37H1703.10Z"/>
<text transform="translate(1169.20,1030.92) scale(1.0000,1.0000)" font-size="29.0" text-anchor="end">Q5</text>
<text transform="translate(1725.80,1030.92) scale(1.0000,1.0000)" font-size="29.0">A6</text>
<path fill-rule="evenodd" fill="#231f20" d="M1640.40 588.10H1668.00V600.50H1640.40Z M1644.30 592.90H1664.10V600.50H1644.30Z"/>
<path fill-rule="evenodd" fill="#231f20" d="M1640.40 1114.50H1668.00V1127.00H1640.40Z M1644.30 1114.50H1664.10V1122.20H1644.30Z"/>
<text transform="translate(1663.20,578.60) rotate(-90) scale(1.0000,1.0300)" font-size="29.0">A14</text>
<text transform="translate(1663.20,1134.60) rotate(-90) scale(1.0000,1.0300)" font-size="29.0" text-anchor="end">A4</text>
<path fill-rule="evenodd" fill="#231f20" d="M1177.10 1050.60H1190.20V1079.00H1177.10Z M1180.80 1055.10H1190.20V1074.50H1180.80Z"/>
<path fill-rule="evenodd" fill="#231f20" d="M1703.10 1050.60H1716.00V1079.00H1703.10Z M1703.10 1055.10H1712.30V1074.50H1703.10Z"/>
<text transform="translate(1169.20,1072.10) scale(1.0000,1.0000)" font-size="29.0" text-anchor="end">Q4</text>
<text transform="translate(1725.80,1072.10) scale(1.0000,1.0000)" font-size="29.0">A5</text>
<text transform="translate(1200.60,866.20) scale(1.0000,1.0000)" font-size="29.0">12</text>
<text transform="translate(1693.00,866.20) scale(1.0000,1.0000)" font-size="29.0" text-anchor="end">34</text>
<text transform="translate(1446.20,866.20) scale(1.0000,1.0000)" font-size="29.0" text-anchor="middle">M27C4002</text>
<text transform="translate(1446.00,1101.70) scale(1.0000,1.0000)" font-size="29.0" text-anchor="middle">23</text>
<text transform="translate(1471.20,629.20) scale(1.0000,1.0000)" font-size="29.0">44</text>
<circle cx="1446.7" cy="620.6" r="15.7" fill="none" stroke="#231f20" stroke-width="2.4"/>
<text transform="translate(1446.00,629.40) scale(1.0000,1.0000)" font-size="25.5" text-anchor="middle">1</text>
<text transform="translate(1714.00,1226.70) scale(1.0000,1.0000)" font-size="19.4">AI00729</text>
<text transform="translate(1069.3,1372.5) scale(0.985,1)" font-size="30.4" xml:space="preserve" style="white-space:pre"><tspan font-weight="bold">Warning:</tspan> NC = Not Connected.</text>
<rect x="449.05" y="1545.60" width="2.90" height="887.10" fill="#231f20"/>
<rect x="780.05" y="1545.60" width="2.90" height="887.10" fill="#231f20"/>
<rect x="450.50" y="1545.60" width="144.60" height="4.80" fill="#231f20"/>
<rect x="636.50" y="1545.60" width="145.00" height="4.80" fill="#231f20"/>
<path d="M593.6 1548.0 V1526.5 L638.0 1569.8 V1548.0" fill="none" stroke="#231f20" stroke-width="3.0" stroke-linejoin="miter" stroke-miterlimit="10"/>
<rect x="450.50" y="2427.90" width="144.60" height="4.80" fill="#231f20"/>
<rect x="636.50" y="2427.90" width="145.00" height="4.80" fill="#231f20"/>
<path d="M593.6 2430.3 V2407.4 L638.0 2451.8 V2430.3" fill="none" stroke="#231f20" stroke-width="3.0" stroke-linejoin="miter" stroke-miterlimit="10"/>
<path fill-rule="evenodd" fill="#231f20" d="M405.10 1563.20H450.50V1584.20H405.10Z M408.90 1568.00H450.50V1579.40H408.90Z"/>
<path fill-rule="evenodd" fill="#231f20" d="M781.50 1563.20H826.90V1584.20H781.50Z M781.50 1568.00H823.10V1579.40H781.50Z"/>
<text transform="translate(394.00,1581.30) scale(0.9530,1.0000)" font-size="32.0" text-anchor="end">A9</text>
<text transform="translate(837.00,1581.30) scale(0.9530,1.0000)" font-size="32.0">V<tspan dy="8.4">SS</tspan></text>
<path fill-rule="evenodd" fill="#231f20" d="M405.10 1607.25H450.50V1628.25H405.10Z M408.90 1612.05H450.50V1623.45H408.90Z"/>
<path fill-rule="evenodd" fill="#231f20" d="M781.50 1607.25H826.90V1628.25H781.50Z M781.50 1612.05H823.10V1623.45H781.50Z"/>
<text transform="translate(394.00,1625.35) scale(0.9530,1.0000)" font-size="32.0" text-anchor="end">A10</text>
<text transform="translate(837.00,1625.35) scale(0.9530,1.0000)" font-size="32.0">A8</text>
<path fill-rule="evenodd" fill="#231f20" d="M405.10 1651.30H450.50V1672.30H405.10Z M408.90 1656.10H450.50V1667.50H408.90Z"/>
<path fill-rule="evenodd" fill="#231f20" d="M781.50 1651.30H826.90V1672.30H781.50Z M781.50 1656.10H823.10V1667.50H781.50Z"/>
<text transform="translate(394.00,1669.40) scale(0.9530,1.0000)" font-size="32.0" text-anchor="end">A11</text>
<text transform="translate(837.00,1669.40) scale(0.9530,1.0000)" font-size="32.0">A7</text>
<path fill-rule="evenodd" fill="#231f20" d="M405.10 1695.35H450.50V1716.35H405.10Z M408.90 1700.15H450.50V1711.55H408.90Z"/>
<path fill-rule="evenodd" fill="#231f20" d="M781.50 1695.35H826.90V1716.35H781.50Z M781.50 1700.15H823.10V1711.55H781.50Z"/>
<text transform="translate(394.00,1713.45) scale(0.9530,1.0000)" font-size="32.0" text-anchor="end">A12</text>
<text transform="translate(837.00,1713.45) scale(0.9530,1.0000)" font-size="32.0">A6</text>
<path fill-rule="evenodd" fill="#231f20" d="M405.10 1739.40H450.50V1760.40H405.10Z M408.90 1744.20H450.50V1755.60H408.90Z"/>
<path fill-rule="evenodd" fill="#231f20" d="M781.50 1739.40H826.90V1760.40H781.50Z M781.50 1744.20H823.10V1755.60H781.50Z"/>
<text transform="translate(394.00,1757.50) scale(0.9530,1.0000)" font-size="32.0" text-anchor="end">A13</text>
<text transform="translate(837.00,1757.50) scale(0.9530,1.0000)" font-size="32.0">A5</text>
<path fill-rule="evenodd" fill="#231f20" d="M405.10 1783.45H450.50V1804.45H405.10Z M408.90 1788.25H450.50V1799.65H408.90Z"/>
<path fill-rule="evenodd" fill="#231f20" d="M781.50 1783.45H826.90V1804.45H781.50Z M781.50 1788.25H823.10V1799.65H781.50Z"/>
<text transform="translate(394.00,1801.55) scale(0.9530,1.0000)" font-size="32.0" text-anchor="end">A14</text>
<text transform="translate(837.00,1801.55) scale(0.9530,1.0000)" font-size="32.0">A4</text>
<path fill-rule="evenodd" fill="#231f20" d="M405.10 1827.50H450.50V1848.50H405.10Z M408.90 1832.30H450.50V1843.70H408.90Z"/>
<path fill-rule="evenodd" fill="#231f20" d="M781.50 1827.50H826.90V1848.50H781.50Z M781.50 1832.30H823.10V1843.70H781.50Z"/>
<text transform="translate(394.00,1845.60) scale(0.9530,1.0000)" font-size="32.0" text-anchor="end">A15</text>
<text transform="translate(837.00,1845.60) scale(0.9530,1.0000)" font-size="32.0">A3</text>
<path fill-rule="evenodd" fill="#231f20" d="M405.10 1871.55H450.50V1892.55H405.10Z M408.90 1876.35H450.50V1887.75H408.90Z"/>
<path fill-rule="evenodd" fill="#231f20" d="M781.50 1871.55H826.90V1892.55H781.50Z M781.50 1876.35H823.10V1887.75H781.50Z"/>
<text transform="translate(394.00,1889.65) scale(0.9530,1.0000)" font-size="32.0" text-anchor="end">A16</text>
<text transform="translate(837.00,1889.65) scale(0.9530,1.0000)" font-size="32.0">A2</text>
<path fill-rule="evenodd" fill="#231f20" d="M405.10 1915.60H450.50V1936.60H405.10Z M408.90 1920.40H450.50V1931.80H408.90Z"/>
<path fill-rule="evenodd" fill="#231f20" d="M781.50 1915.60H826.90V1936.60H781.50Z M781.50 1920.40H823.10V1931.80H781.50Z"/>
<text transform="translate(394.00,1933.70) scale(0.9530,1.0000)" font-size="32.0" text-anchor="end">A17</text>
<text transform="translate(837.00,1933.70) scale(0.9530,1.0000)" font-size="32.0">A1</text>
<path fill-rule="evenodd" fill="#231f20" d="M405.10 1959.65H450.50V1980.65H405.10Z M408.90 1964.45H450.50V1975.85H408.90Z"/>
<path fill-rule="evenodd" fill="#231f20" d="M781.50 1959.65H826.90V1980.65H781.50Z M781.50 1964.45H823.10V1975.85H781.50Z"/>
<text transform="translate(394.00,1977.75) scale(0.9530,1.0000)" font-size="32.0" text-anchor="end">V<tspan dy="8.4">CC</tspan></text>
<text transform="translate(837.00,1977.75) scale(0.9530,1.0000)" font-size="32.0">A0</text>
<path fill-rule="evenodd" fill="#231f20" d="M405.10 2003.70H450.50V2024.70H405.10Z M408.90 2008.50H450.50V2019.90H408.90Z"/>
<path fill-rule="evenodd" fill="#231f20" d="M781.50 2003.70H826.90V2024.70H781.50Z M781.50 2008.50H823.10V2019.90H781.50Z"/>
<text transform="translate(394.00,2021.80) scale(0.9530,1.0000)" font-size="32.0" text-anchor="end">V<tspan dy="8.4">PP</tspan></text>
<text transform="translate(837.00,2021.80) scale(0.9530,1.0000)" font-size="32.0">G</text>
<rect x="838.40" y="1991.40" width="20.73" height="2.40" fill="#231f20"/>
<path fill-rule="evenodd" fill="#231f20" d="M405.10 2047.75H450.50V2068.75H405.10Z M408.90 2052.55H450.50V2063.95H408.90Z"/>
<path fill-rule="evenodd" fill="#231f20" d="M781.50 2047.75H826.90V2068.75H781.50Z M781.50 2052.55H823.10V2063.95H781.50Z"/>
<text transform="translate(394.00,2065.85) scale(0.9530,1.0000)" font-size="32.0" text-anchor="end">E</text>
<rect x="375.26" y="2035.45" width="19.34" height="2.40" fill="#231f20"/>
<text transform="translate(837.00,2065.85) scale(0.9530,1.0000)" font-size="32.0">DQ0</text>
<path fill-rule="evenodd" fill="#231f20" d="M405.10 2091.80H450.50V2112.80H405.10Z M408.90 2096.60H450.50V2108.00H408.90Z"/>
<path fill-rule="evenodd" fill="#231f20" d="M781.50 2091.80H826.90V2112.80H781.50Z M781.50 2096.60H823.10V2108.00H781.50Z"/>
<text transform="translate(394.00,2109.90) scale(0.9530,1.0000)" font-size="32.0" text-anchor="end">DQ15</text>
<text transform="translate(837.00,2109.90) scale(0.9530,1.0000)" font-size="32.0">DQ1</text>
<path fill-rule="evenodd" fill="#231f20" d="M405.10 2135.85H450.50V2156.85H405.10Z M408.90 2140.65H450.50V2152.05H408.90Z"/>
<path fill-rule="evenodd" fill="#231f20" d="M781.50 2135.85H826.90V2156.85H781.50Z M781.50 2140.65H823.10V2152.05H781.50Z"/>
<text transform="translate(394.00,2153.95) scale(0.9530,1.0000)" font-size="32.0" text-anchor="end">DQ14</text>
<text transform="translate(837.00,2153.95) scale(0.9530,1.0000)" font-size="32.0">DQ2</text>
<path fill-rule="evenodd" fill="#231f20" d="M405.10 2179.90H450.50V2200.90H405.10Z M408.90 2184.70H450.50V2196.10H408.90Z"/>
<path fill-rule="evenodd" fill="#231f20" d="M781.50 2179.90H826.90V2200.90H781.50Z M781.50 2184.70H823.10V2196.10H781.50Z"/>
<text transform="translate(394.00,2198.00) scale(0.9530,1.0000)" font-size="32.0" text-anchor="end">DQ13</text>
<text transform="translate(837.00,2198.00) scale(0.9530,1.0000)" font-size="32.0">DQ3</text>
<path fill-rule="evenodd" fill="#231f20" d="M405.10 2223.95H450.50V2244.95H405.10Z M408.90 2228.75H450.50V2240.15H408.90Z"/>
<path fill-rule="evenodd" fill="#231f20" d="M781.50 2223.95H826.90V2244.95H781.50Z M781.50 2228.75H823.10V2240.15H781.50Z"/>
<text transform="translate(394.00,2242.05) scale(0.9530,1.0000)" font-size="32.0" text-anchor="end">DQ12</text>
<text transform="translate(837.00,2242.05) scale(0.9530,1.0000)" font-size="32.0">DQ4</text>
<path fill-rule="evenodd" fill="#231f20" d="M405.10 2268.00H450.50V2289.00H405.10Z M408.90 2272.80H450.50V2284.20H408.90Z"/>
<path fill-rule="evenodd" fill="#231f20" d="M781.50 2268.00H826.90V2289.00H781.50Z M781.50 2272.80H823.10V2284.20H781.50Z"/>
<text transform="translate(394.00,2286.10) scale(0.9530,1.0000)" font-size="32.0" text-anchor="end">DQ11</text>
<text transform="translate(837.00,2286.10) scale(0.9530,1.0000)" font-size="32.0">DQ5</text>
<path fill-rule="evenodd" fill="#231f20" d="M405.10 2312.05H450.50V2333.05H405.10Z M408.90 2316.85H450.50V2328.25H408.90Z"/>
<path fill-rule="evenodd" fill="#231f20" d="M781.50 2312.05H826.90V2333.05H781.50Z M781.50 2316.85H823.10V2328.25H781.50Z"/>
<text transform="translate(394.00,2330.15) scale(0.9530,1.0000)" font-size="32.0" text-anchor="end">DQ10</text>
<text transform="translate(837.00,2330.15) scale(0.9530,1.0000)" font-size="32.0">DQ6</text>
<path fill-rule="evenodd" fill="#231f20" d="M405.10 2356.10H450.50V2377.10H405.10Z M408.90 2360.90H450.50V2372.30H408.90Z"/>
<path fill-rule="evenodd" fill="#231f20" d="M781.50 2356.10H826.90V2377.10H781.50Z M781.50 2360.90H823.10V2372.30H781.50Z"/>
<text transform="translate(394.00,2374.20) scale(0.9530,1.0000)" font-size="32.0" text-anchor="end">DQ9</text>
<text transform="translate(837.00,2374.20) scale(0.9530,1.0000)" font-size="32.0">DQ7</text>
<path fill-rule="evenodd" fill="#231f20" d="M405.10 2400.15H450.50V2421.15H405.10Z M408.90 2404.95H450.50V2416.35H408.90Z"/>
<path fill-rule="evenodd" fill="#231f20" d="M781.50 2400.15H826.90V2421.15H781.50Z M781.50 2404.95H823.10V2416.35H781.50Z"/>
<text transform="translate(394.00,2418.25) scale(0.9530,1.0000)" font-size="32.0" text-anchor="end">DQ8</text>
<text transform="translate(837.00,2418.25) scale(0.9530,1.0000)" font-size="32.0">V<tspan dy="8.4">SS</tspan></text>
<text transform="translate(769.40,1581.30) scale(0.9530,1.0000)" font-size="32.0" text-anchor="end">40</text>
<text transform="translate(769.40,1977.75) scale(0.9530,1.0000)" font-size="32.0" text-anchor="end">31</text>
<text transform="translate(769.40,2021.80) scale(0.9530,1.0000)" font-size="32.0" text-anchor="end">30</text>
<text transform="translate(769.40,2418.25) scale(0.9530,1.0000)" font-size="32.0" text-anchor="end">21</text>
<text transform="translate(461.80,1977.75) scale(0.9530,1.0000)" font-size="32.0">10</text>
<text transform="translate(461.80,2021.80) scale(0.9530,1.0000)" font-size="32.0">11</text>
<text transform="translate(461.80,2418.25) scale(0.9530,1.0000)" font-size="32.0">20</text>
<circle cx="471.9" cy="1570.3" r="16.4" fill="none" stroke="#231f20" stroke-width="2.4"/>
<text transform="translate(471.60,1580.40) scale(0.9530,1.0000)" font-size="28.5" text-anchor="middle">1</text>
<text transform="translate(615.00,1977.75) scale(0.9760,1.0000)" font-size="32.0" text-anchor="middle">M27C4002</text>
<text transform="translate(615.50,2014.50) scale(0.9720,1.0000)" font-size="32.0" text-anchor="middle">(Normal)</text>
<text transform="translate(779.00,2462.30) scale(1.0000,1.0000)" font-size="19.4" text-anchor="end">AI01831</text>
</svg>
<div class="ln j" style="top:1487.00px;word-spacing:1.446px">The operating modes of the M27C4002 are listed</div>
<div class="ln j" style="top:1523.83px;word-spacing:-0.174px">in the Operating Modes table. A single power sup-</div>
<div class="ln j" style="top:1560.66px;word-spacing:-1.805px">ply is required in the read mode.&nbsp; All inputs are TTL</div>
<div class="ln j" style="top:1597.49px;word-spacing:0.401px">levels except for V<span class="sb">pp</span> and 12V on A9 for Electronic</div>
<div class="ln l" style="top:1634.32px">Signature.</div>
<div class="ln j" style="top:1736.90px;word-spacing:1.174px">The M27C4002 has two control functions, both of</div>
<div class="ln j" style="top:1773.73px;word-spacing:4.871px">which must be logically active in order to obtain</div>
<div class="ln j" style="top:1810.56px;word-spacing:0.628px">data at the outputs.&nbsp; Chip Enable (<span class="ob">E</span>) is the power</div>
<div class="ln j" style="top:1847.39px;word-spacing:4.458px">control and should be used for device selection.</div>
<div class="ln j" style="top:1884.22px;word-spacing:-1.135px">Output Enable (<span class="ob">G</span>) is the output control and should</div>
<div class="ln j" style="top:1921.05px;word-spacing:8.359px">be used to gate data to the output pins, inde-</div>
<div class="ln j" style="top:1957.88px;word-spacing:5.551px">pendent of device selection.&nbsp; Assuming that the</div>
<div class="ln j" style="top:1994.71px;word-spacing:8.091px">addresses are stable, the address access time</div>
<div class="ln j" style="top:2031.54px;word-spacing:-3.292px">(t<span class="sc">AVQV</span>) is equal to the delay from <span class="ob">E</span> to output (t<span class="sc">ELQV</span>).</div>
<div class="ln j" style="top:2068.37px;word-spacing:-2.244px">Data is available at the output after a delay of t<span class="sc">GLQV</span></div>
<div class="ln j" style="top:2105.20px;word-spacing:4.535px">from the falling edge of <span class="ob">G</span>, assuming that <span class="ob">E</span> has</div>
<div class="ln j" style="top:2142.03px;word-spacing:0.777px">been low and the addresses have been stable for</div>
<div class="ln l" style="top:2178.86px">at least t<span class="sc">AVQV</span>-t<span class="sc">GLQV</span>.</div>
<div class="ln j" style="top:2281.50px;word-spacing:7.480px">The M27C4002 has a standby mode which re-</div>
<div class="ln j" style="top:2318.33px;word-spacing:-2.334px">duces the supply current from 50mA to 100µA. The</div>
<div class="ln j" style="top:2355.16px;word-spacing:2.463px">M27C4002 is placed in the standby mode by ap-</div>
<div class="ln j" style="top:2391.99px;word-spacing:-1.342px">plying a CMOS high signal to the <span class="ob">E</span> input.&nbsp; When in</div>
<div class="ln j" style="top:2428.82px;word-spacing:-2.075px">the standby mode, the outputs are in a high imped-</div>
<div class="ln l" style="top:2465.65px">ance state, independent of the <span class="ob">G</span> input.</div>
</body></html>
